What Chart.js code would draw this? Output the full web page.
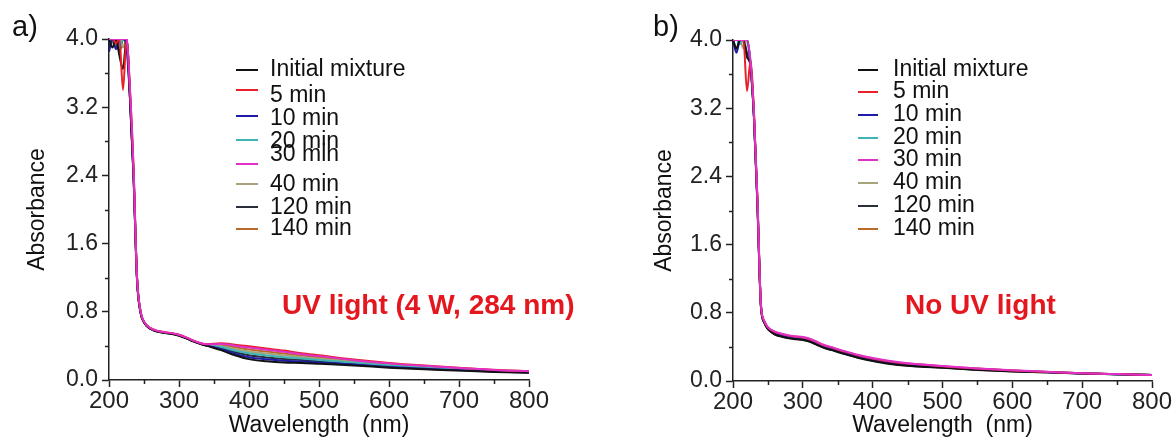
<!DOCTYPE html>
<html>
<head>
<meta charset="utf-8">
<title>Absorbance spectra</title>
<script src="https://cdn.jsdelivr.net/npm/chart.js@4.4.1/dist/chart.umd.min.js"></script>
<style>
  body { margin: 0; background: #fff; }
  #wrap { position: relative; width: 1176px; height: 440px; }
  #wrap canvas { position: absolute; top: 0; }
</style>
</head>
<body>
<div id="wrap">
  <canvas id="uvChart" width="588" height="440" style="left:0"></canvas>
  <canvas id="darkChart" width="588" height="440" style="left:588px"></canvas>
</div>
<script>
// wavelength grid (nm) shared by every spectrum
var wavelengths = [200, 205, 210, 215, 220, 225, 230, 235, 240, 245, 250, 260, 270, 280, 290, 300, 310, 320, 330,
                   340, 360, 380, 400, 425, 450, 475, 500, 550, 600, 650, 700, 750, 800];

var seriesNames = ['Initial mixture', '5 min', '10 min', '20 min', '30 min', '40 min', '120 min', '140 min'];
var seriesColors = ['#111111', '#e8202a', '#1c1ca8', '#3fb4b4', '#e030c8', '#a8a47a', '#2a2e3a', '#b86a28'];
var drawOrder = [1, -1, 1, 1, -2, 1, 1, 1];

var xTicks = [200, 300, 400, 500, 600, 700, 800];
var yTicks = [0.0, 0.8, 1.6, 2.4, 3.2, 4.0];

// a) irradiated with UV light
var uvInitial = [4.0, 3.9, 4.0, 3.8, 3.65, 4.0, 3.3, 2.4, 1.18, 0.79, 0.675, 0.595, 0.565, 0.55, 0.54, 0.52, 0.49, 0.455, 0.425,
                 0.40, 0.35, 0.29, 0.245, 0.22, 0.205, 0.20, 0.19, 0.17, 0.145, 0.125, 0.11, 0.095, 0.085];
var uv5 = [4.0, 4.0, 3.95, 4.0, 3.4, 4.0, 3.4, 2.5, 1.22, 0.81, 0.685, 0.605, 0.575, 0.56, 0.55, 0.53, 0.5, 0.465, 0.435,
           0.42, 0.43, 0.415, 0.395, 0.37, 0.345, 0.315, 0.29, 0.24, 0.20, 0.17, 0.145, 0.12, 0.105];
var uv10 = [3.85, 4.0, 3.88, 4.0, 4.0, 3.9, 3.3, 2.42, 1.19, 0.8, 0.68, 0.6, 0.57, 0.555, 0.545, 0.525, 0.495, 0.458, 0.428,
            0.403, 0.362, 0.309, 0.268, 0.243, 0.226, 0.217, 0.205, 0.181, 0.153, 0.132, 0.115, 0.099, 0.088];
var uv20 = [4.0, 4.0, 4.0, 3.9, 4.0, 4.0, 3.35, 2.45, 1.2, 0.8, 0.68, 0.6, 0.57, 0.555, 0.545, 0.525, 0.495, 0.46, 0.43,
            0.409, 0.386, 0.346, 0.313, 0.288, 0.268, 0.252, 0.235, 0.202, 0.17, 0.145, 0.126, 0.106, 0.094];
var uv30 = [4.0, 4.0, 4.0, 4.0, 4.0, 4.0, 3.4, 2.5, 1.21, 0.81, 0.685, 0.605, 0.575, 0.56, 0.55, 0.53, 0.5, 0.463, 0.433,
            0.418, 0.422, 0.403, 0.38, 0.355, 0.331, 0.303, 0.28, 0.233, 0.195, 0.166, 0.142, 0.118, 0.103];
var uv40 = [4.0, 3.95, 4.0, 4.0, 3.9, 4.0, 3.35, 2.45, 1.2, 0.8, 0.68, 0.6, 0.57, 0.555, 0.545, 0.525, 0.495, 0.46, 0.43,
            0.412, 0.398, 0.365, 0.335, 0.31, 0.289, 0.269, 0.25, 0.212, 0.178, 0.152, 0.131, 0.11, 0.097];
var uv120 = [3.9, 4.0, 4.0, 3.85, 4.0, 3.95, 3.3, 2.4, 1.19, 0.795, 0.678, 0.598, 0.568, 0.553, 0.543, 0.523, 0.493, 0.458, 0.428,
             0.406, 0.374, 0.328, 0.29, 0.265, 0.247, 0.235, 0.22, 0.191, 0.162, 0.139, 0.121, 0.103, 0.091];
var uv140 = [4.0, 4.0, 3.9, 4.0, 4.0, 4.0, 3.35, 2.45, 1.2, 0.8, 0.682, 0.602, 0.572, 0.557, 0.547, 0.527, 0.497, 0.461, 0.431,
             0.415, 0.41, 0.384, 0.358, 0.333, 0.31, 0.286, 0.265, 0.223, 0.186, 0.159, 0.136, 0.114, 0.1];

// b) kept in the dark
var darkInitial = [4.0, 3.9, 4.0, 4.0, 3.8, 3.7, 3.1, 2.1, 0.88, 0.68, 0.61, 0.545, 0.52, 0.50, 0.49, 0.48, 0.46, 0.425, 0.39,
                   0.365, 0.315, 0.27, 0.235, 0.20, 0.178, 0.165, 0.155, 0.13, 0.112, 0.102, 0.088, 0.079, 0.069];
var dark5 = [4.0, 4.0, 4.0, 4.0, 3.4, 3.75, 3.15, 2.1, 0.89, 0.7, 0.63, 0.575, 0.55, 0.53, 0.52, 0.51, 0.49, 0.455, 0.42,
             0.395, 0.345, 0.30, 0.265, 0.23, 0.205, 0.19, 0.172, 0.146, 0.124, 0.107, 0.092, 0.081, 0.071];
var dark10 = [4.0, 3.85, 4.0, 4.0, 4.0, 3.7, 3.1, 2.05, 0.88, 0.69, 0.615, 0.555, 0.53, 0.51, 0.50, 0.49, 0.47, 0.435, 0.40,
              0.375, 0.325, 0.28, 0.245, 0.21, 0.186, 0.172, 0.16, 0.135, 0.116, 0.103, 0.089, 0.079, 0.07];
var dark20 = [4.0, 4.0, 3.95, 4.0, 4.0, 3.75, 3.1, 2.1, 0.88, 0.69, 0.62, 0.565, 0.54, 0.52, 0.51, 0.50, 0.48, 0.445, 0.41,
              0.385, 0.335, 0.29, 0.255, 0.22, 0.195, 0.18, 0.165, 0.14, 0.12, 0.105, 0.09, 0.08, 0.07];
var dark30 = [4.0, 4.0, 4.0, 4.0, 4.0, 3.75, 3.15, 2.15, 0.9, 0.7, 0.63, 0.58, 0.555, 0.535, 0.525, 0.515, 0.495, 0.46, 0.425,
              0.40, 0.35, 0.305, 0.27, 0.235, 0.208, 0.192, 0.175, 0.148, 0.126, 0.108, 0.092, 0.081, 0.071];
var dark40 = [4.0, 4.0, 4.0, 3.9, 4.0, 3.7, 3.1, 2.1, 0.88, 0.69, 0.62, 0.56, 0.535, 0.515, 0.505, 0.495, 0.475, 0.44, 0.405,
              0.38, 0.33, 0.285, 0.25, 0.215, 0.19, 0.176, 0.163, 0.138, 0.118, 0.104, 0.09, 0.08, 0.07];
var dark120 = [4.0, 3.9, 4.0, 4.0, 3.85, 3.7, 3.1, 2.05, 0.87, 0.68, 0.61, 0.55, 0.525, 0.505, 0.495, 0.485, 0.465, 0.43, 0.395,
               0.37, 0.32, 0.275, 0.24, 0.205, 0.181, 0.168, 0.157, 0.132, 0.114, 0.102, 0.088, 0.079, 0.069];
var dark140 = [4.0, 4.0, 4.0, 4.0, 4.0, 3.75, 3.15, 2.1, 0.89, 0.69, 0.625, 0.57, 0.545, 0.525, 0.515, 0.505, 0.485, 0.45, 0.415,
               0.39, 0.34, 0.295, 0.26, 0.225, 0.2, 0.185, 0.168, 0.143, 0.122, 0.106, 0.091, 0.08, 0.07];

var uvSeries = [uvInitial, uv5, uv10, uv20, uv30, uv40, uv120, uv140];
var darkSeries = [darkInitial, dark5, dark10, dark20, dark30, dark40, dark120, dark140];

var fontFamily = '"Liberation Sans", Arial, sans-serif';
var axisColor = '#222';

// short minor ticks, the in-plot legend, the red note and the panel letter
var panelDecor = {
    id: 'panelDecor',
    afterDraw: function(chart, args, opts) {
        var ctx = chart.ctx;
        var xs = chart.scales.x;
        var ys = chart.scales.y;
        ctx.save();

        ctx.strokeStyle = axisColor;
        ctx.lineWidth = 1.5;
        ctx.beginPath();
        for (var w = 250; w < 800; w += 100) {
            var px = Math.round(xs.getPixelForValue(w)) + 0.5;
            ctx.moveTo(px, xs.top);
            ctx.lineTo(px, xs.top + 4);
        }
        for (var k = 0; k < yTicks.length - 1; k++) {
            var py = Math.round(ys.getPixelForValue((yTicks[k] + yTicks[k + 1]) / 2)) + 0.5;
            ctx.moveTo(ys.right, py);
            ctx.lineTo(ys.right - 4, py);
        }
        ctx.stroke();

        ctx.font = '23px ' + fontFamily;
        ctx.textBaseline = 'middle';
        ctx.textAlign = 'left';
        chart.data.datasets.forEach(function(ds, i) {
            ctx.strokeStyle = ds.borderColor;
            ctx.lineWidth = 2;
            ctx.beginPath();
            ctx.moveTo(opts.lineX, opts.lineY[i]);
            ctx.lineTo(opts.lineX + opts.lineLen, opts.lineY[i]);
            ctx.stroke();
            ctx.fillStyle = '#111';
            ctx.fillText(ds.label, opts.textX, opts.textY[i]);
        });

        ctx.textBaseline = 'alphabetic';
        ctx.font = 'bold 28px ' + fontFamily;
        ctx.fillStyle = '#e4171f';
        ctx.fillText(opts.note, opts.noteX, opts.noteY);

        ctx.font = '29px ' + fontFamily;
        ctx.fillStyle = '#111';
        ctx.fillText(opts.letter, opts.letterX, 36);

        ctx.restore();
    }
};

function makeChart(canvasId, series, yAxisWidth, titlePad, pad, decor) {
    var datasets = series.map(function(values, i) {
        return {
            label: seriesNames[i],
            data: wavelengths.map(function(w, j) { return {x: w, y: values[j]}; }),
            borderColor: seriesColors[i],
            borderWidth: 2,
            pointRadius: 0,
            cubicInterpolationMode: 'monotone',
            order: drawOrder[i]
        };
    });

    return new Chart(document.getElementById(canvasId), {
        type: 'line',
        data: { datasets: datasets },
        options: {
            responsive: false,
            animation: false,
            layout: { padding: pad },
            plugins: {
                legend: { display: false },
                tooltip: { enabled: false },
                panelDecor: decor
            },
            scales: {
                x: {
                    type: 'linear',
                    min: 200,
                    max: 800,
                    afterFit: function(scale) { scale.height = 440 - pad.bottomEdge; },
                    afterBuildTicks: function(scale) {
                        scale.ticks = xTicks.map(function(v) { return {value: v}; });
                    },
                    ticks: {
                        color: axisColor,
                        padding: 0,
                        maxRotation: 0,
                        autoSkip: false,
                        font: { family: fontFamily, size: 24 }
                    },
                    grid: { drawOnChartArea: false, tickLength: 7, color: axisColor, tickWidth: 1.5 },
                    border: { color: axisColor, width: 1.5 },
                    title: {
                        display: true,
                        text: 'Wavelength  (nm)',
                        color: '#111',
                        padding: { top: 0, bottom: 1 },
                        font: { family: fontFamily, size: 23 }
                    }
                },
                y: {
                    min: 0,
                    max: 4,
                    afterFit: function(scale) { scale.width = yAxisWidth; },
                    afterBuildTicks: function(scale) {
                        scale.ticks = yTicks.map(function(v) { return {value: v}; });
                    },
                    ticks: {
                        color: axisColor,
                        padding: 4,
                        autoSkip: false,
                        font: { family: fontFamily, size: 23 },
                        callback: function(v) { return Number(v).toFixed(1); }
                    },
                    grid: { drawOnChartArea: false, tickLength: 7, color: axisColor, tickWidth: 1.5 },
                    border: { color: axisColor, width: 1.5 },
                    title: {
                        display: true,
                        text: 'Absorbance',
                        color: '#111',
                        padding: { top: titlePad, bottom: 0 },
                        font: { family: fontFamily, size: 23 }
                    }
                }
            }
        },
        plugins: [panelDecor]
    });
}

makeChart('uvChart', uvSeries, 109, 24,
    { left: 0, right: 59, top: 39, bottom: 0, bottomEdge: 380 },
    {
        lineX: 236, lineLen: 22, textX: 270,
        lineY: [70, 90, 116, 140, 164, 184, 207, 229],
        textY: [70, 96, 119, 142, 155, 185, 208, 229],
        note: 'UV light (4 W, 284 nm)', noteX: 282, noteY: 314,
        letter: 'a)', letterX: 12
    });

makeChart('darkChart', darkSeries, 145, 63,
    { left: 0, right: 24, top: 40, bottom: 0, bottomEdge: 381 },
    {
        lineX: 270, lineLen: 20, textX: 305,
        lineY: [70, 92, 115, 138, 160, 183, 206, 229],
        textY: [70, 92, 115, 138, 160, 183, 206, 229],
        note: 'No UV light', noteX: 317, noteY: 314,
        letter: 'b)', letterX: 65
    });
</script>
</body>
</html>
